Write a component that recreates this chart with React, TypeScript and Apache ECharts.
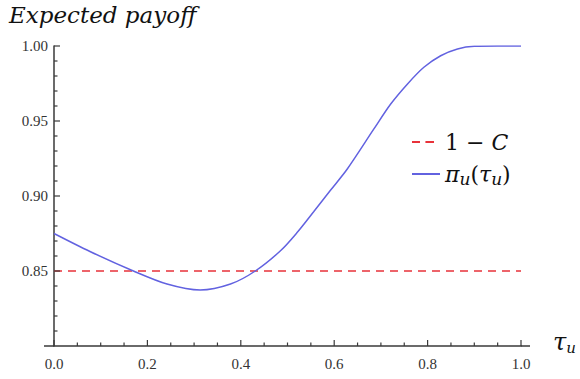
import React, { useEffect, useRef } from "react";
import * as echarts from "echarts";

const tauValues = [0, 0.077, 0.17, 0.242, 0.313, 0.378, 0.431, 0.485, 0.521, 0.556, 0.592, 0.628, 0.685, 0.721, 0.757, 0.792, 0.828, 0.864, 0.9, 0.95, 1.0];
const payoffValues = [0.875, 0.863, 0.85, 0.8413, 0.8373, 0.8413, 0.85, 0.8635, 0.8758, 0.8895, 0.9038, 0.918, 0.9447, 0.9613, 0.9747, 0.9858, 0.9935, 0.998, 0.9998, 1.0, 1.0];
const costLineX = [0, 1];
const costLineY = [0.85, 0.85];
const seriesNames = ["1 − C", "πu(τu)"];

const X_MIN = 0;
const X_MAX = 1;
const Y_MIN = 0.8;
const Y_MAX = 1.0;
const xMajorTicks = [0, 0.2, 0.4, 0.6, 0.8, 1.0];
const xMinorTicks = [0.05, 0.1, 0.15, 0.25, 0.3, 0.35, 0.45, 0.5, 0.55, 0.65, 0.7, 0.75, 0.85, 0.9, 0.95];
const yMajorTicks = [0.85, 0.9, 0.95, 1.0];
const yMinorTicks = [0.81, 0.82, 0.83, 0.84, 0.86, 0.87, 0.88, 0.89, 0.91, 0.92, 0.93, 0.94, 0.96, 0.97, 0.98, 0.99];

const GRID = { left: 54, right: 59, top: 46, bottom: 33 };

export default function App() {
  const ref = useRef<HTMLDivElement>(null);
  useEffect(() => {
    if (!ref.current) return;
    const chart = echarts.init(ref.current, undefined, { renderer: "svg" });
    const axisColor = "#3a3a3a";
    const serif = "Liberation Serif";
    const mathFont = "DejaVu Serif";
    const labelStyle = { fontFamily: serif, fontSize: 15, color: "#333" };

    const tickSeries = (values: number[], dir: "x" | "y", len: number) => ({
      type: "custom",
      silent: true,
      clip: false,
      z: 5,
      data: values.map((v) => (dir === "x" ? [v, Y_MIN] : [X_MIN, v])),
      renderItem: (_params: any, api: any) => {
        const p = api.coord([api.value(0), api.value(1)]);
        const shape =
          dir === "x"
            ? { x1: p[0], y1: p[1], x2: p[0], y2: p[1] - len }
            : { x1: p[0], y1: p[1], x2: p[0] + len, y2: p[1] };
        return { type: "line", shape, style: { stroke: axisColor, lineWidth: 1.2 } };
      },
    });

    chart.setOption({
      animation: false,
      backgroundColor: "#fff",
      grid: GRID,
      xAxis: {
        type: "value",
        min: X_MIN,
        max: X_MAX,
        interval: 0.2,
        axisLine: { show: true, onZero: false, lineStyle: { color: axisColor, width: 1.5 } },
        axisTick: { show: false },
        splitLine: { show: false },
        axisLabel: { ...labelStyle, margin: 10, formatter: (v: number) => v.toFixed(1) },
      },
      yAxis: {
        type: "value",
        min: Y_MIN,
        max: Y_MAX,
        interval: 0.05,
        axisLine: { show: true, onZero: false, lineStyle: { color: axisColor, width: 1.5 } },
        axisTick: { show: false },
        splitLine: { show: false },
        axisLabel: {
          ...labelStyle,
          margin: 6,
          formatter: (v: number) => (Math.abs(v - Y_MIN) < 1e-9 ? "" : v.toFixed(2)),
        },
      },
      legend: {
        orient: "vertical",
        left: 406,
        top: 126,
        itemWidth: 28,
        itemHeight: 2,
        itemGap: 10,
        textStyle: {
          fontFamily: mathFont,
          fontSize: 22,
          color: "#111",
          rich: {
            n: { fontFamily: mathFont, fontSize: 22, color: "#111" },
            i: { fontFamily: mathFont, fontStyle: "italic", fontSize: 22, color: "#111" },
            s: { fontFamily: mathFont, fontStyle: "italic", fontSize: 17, color: "#111", padding: [10, 0, 0, 0] },
          },
        },
        formatter: (name: string) =>
          name === seriesNames[0]
            ? "{n|1 − }{i|C}"
            : "{i|π}{s|u}{n|(}{i|τ}{s|u}{n|)}",
        data: seriesNames,
      },
      graphic: [
        {
          type: "text",
          left: 9,
          top: 3,
          style: {
            text: "Expected payoff",
            fontFamily: mathFont,
            fontStyle: "italic",
            fontSize: 23,
            fill: "#111",
          },
        },
        {
          type: "text",
          left: 553,
          top: 330,
          style: {
            text: "{i|τ}{s|u}",
            rich: {
              i: { fontFamily: mathFont, fontStyle: "italic", fontSize: 24, fill: "#111" },
              s: { fontFamily: mathFont, fontStyle: "italic", fontSize: 15, fill: "#111", padding: [12, 0, 0, 0] },
            },
          },
        },
        {
          type: "line",
          shape: { x1: 44, y1: 379 - GRID.bottom, x2: 54, y2: 379 - GRID.bottom },
          style: { stroke: axisColor, lineWidth: 1.5 },
        },
        {
          type: "line",
          shape: { x1: 580 - GRID.right, y1: 379 - GRID.bottom, x2: 530, y2: 379 - GRID.bottom },
          style: { stroke: axisColor, lineWidth: 1.5 },
        },
      ],
      series: [
        {
          name: seriesNames[0],
          type: "line",
          symbol: "none",
          data: costLineX.map((x, i) => [x, costLineY[i]]),
          lineStyle: { color: "#e8323a", width: 1.6, type: [8, 6] },
          itemStyle: { color: "#e8323a" },
        },
        {
          name: seriesNames[1],
          type: "line",
          symbol: "none",
          smooth: 0.3,
          data: tauValues.map((x, i) => [x, payoffValues[i]]),
          lineStyle: { color: "#6262e0", width: 1.5 },
          itemStyle: { color: "#6262e0" },
        },
        tickSeries(xMajorTicks, "x", 6),
        tickSeries(xMinorTicks, "x", 3.5),
        tickSeries(yMajorTicks, "y", 6),
        tickSeries(yMinorTicks, "y", 3.5),
      ],
    });
    return () => chart.dispose();
  }, []);
  return <div ref={ref} style={{ width: 580, height: 379, position: "absolute", left: 0, top: 0 }} />;
}
